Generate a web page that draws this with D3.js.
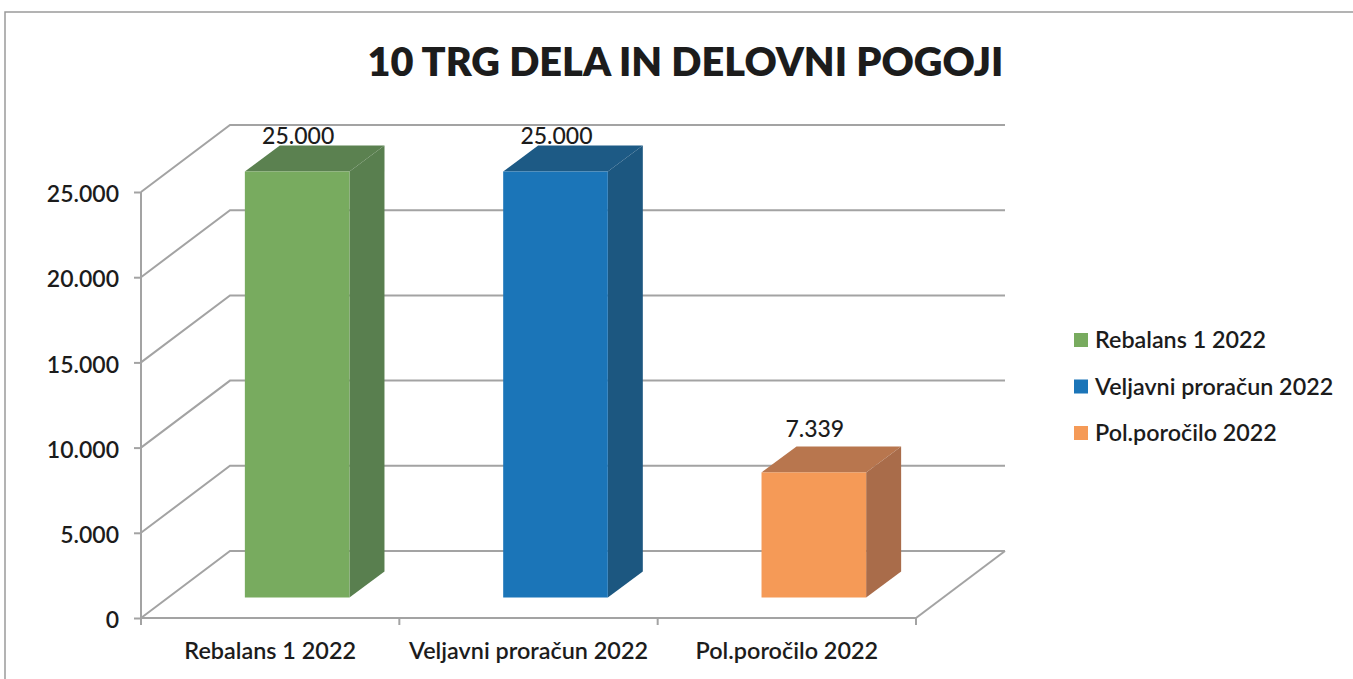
<!DOCTYPE html>
<html>
<head>
<meta charset="utf-8">
<script src="https://cdn.jsdelivr.net/npm/d3@7"></script>
<style>
  html, body { margin: 0; padding: 0; background: #fff; }
  text { font-family: Lato, "Open Sans", sans-serif; fill: #1c1c1c; }
</style>
</head>
<body>
<div id="chart"></div>
<script>
const title = "10 TRG DELA IN DELOVNI POGOJI";
const categories = ["Rebalans 1 2022", "Veljavni proračun 2022", "Pol.poročilo 2022"];
const values = [25000, 25000, 7339];
const valueLabels = ["25.000", "25.000", "7.339"];
const yTicks = [0, 5000, 10000, 15000, 20000, 25000];
const frontColors = ["#78ab5f", "#1b75b8", "#f59a57"];
const topColors = ["#5b8150", "#1d5a85", "#b8764e"];
const sideColors = ["#597f4f", "#1c5780", "#a96c4a"];

const width = 1353, height = 679;
const svg = d3.select("#chart").append("svg")
  .attr("width", width).attr("height", height);

// frame of the chart area
svg.append("path")
  .attr("d", `M5,679 V12 H1353`)
  .attr("fill", "none").attr("stroke", "#9a9a9a").attr("stroke-width", 1.5);

// scales
const scaleX = d3.scaleBand(categories, [141, 916]);
const scaleY = d3.scaleLinear([0, 25000], [618, 192]);
const numFormat = d3.format(",.0f");
const fmt = (d) => numFormat(d).replace(/,/g, ".");

// depth of the 3d box, and of a bar inside it
const depthX = 89, depthY = -67;
const barDepthX = 35, barDepthY = -26;
const barWidth = scaleX.bandwidth() * 0.405;
const gridColor = "#a3a3a3";

// title
svg.append("text")
  .attr("x", 685.5).attr("y", 76)
  .attr("text-anchor", "middle")
  .style("font-size", "39.7px").style("font-weight", 800)
  .text(title);

// back wall and floor lines
const grid = svg.append("g").attr("fill", "none")
  .attr("stroke", gridColor).attr("stroke-width", 2);
grid.selectAll("path.wall")
  .data(yTicks)
  .join("path")
  .classed("wall", true)
  .attr("d", (d) => {
    let y = scaleY(d);
    return `M141,${y} L${141 + depthX},${y + depthY} H${916 + depthX}`;
  });
grid.append("path")
  .attr("d", `M916,618 L${916 + depthX},${618 + depthY}`);

// axes
const axisY = d3.axisLeft(scaleY).tickValues(yTicks).tickFormat(fmt).tickSize(7).tickPadding(15);
const axisX = d3.axisBottom(scaleX).tickSize(0).tickPadding(24);

const gX = svg.append("g").attr("transform", "translate(0,618)").call(axisX);
const gY = svg.append("g").attr("transform", "translate(141,0)").call(axisY);

gY.selectAll("line").attr("stroke", gridColor).attr("stroke-width", 2);
gY.select(".domain").attr("stroke", gridColor).attr("stroke-width", 2)
  .attr("d", `M0,${scaleY(0)} V${scaleY(25000)}`);
gY.selectAll("text").style("font-size", "23px").style("font-family", "Lato")
  .style("font-weight", 600).attr("dy", "0.42em");

gX.select(".domain").attr("stroke", gridColor).attr("stroke-width", 2)
  .attr("d", "M141,0 H916");
gX.selectAll("text").style("font-size", "23.4px").style("font-weight", 600).style("font-family", "Lato");

// x ticks sit between the bands
gX.selectAll("line.sep")
  .data([...categories.map((c) => scaleX(c)), 916])
  .join("line")
  .classed("sep", true)
  .attr("x1", (d) => d).attr("x2", (d) => d)
  .attr("y1", 0).attr("y2", 7)
  .attr("stroke", gridColor).attr("stroke-width", 2);

// bars
const bars = svg.append("g").selectAll("g.bar")
  .data(categories)
  .join("g")
  .classed("bar", true);

const x0 = (d) => scaleX(d) + scaleX.bandwidth() / 2 + (depthX - barDepthX) / 2 - barWidth / 2;
const yBase = 618 + (depthY - barDepthY) / 2;
const yTop = (i) => scaleY(values[i]) + (depthY - barDepthY) / 2;

bars.append("path") // top
  .attr("fill", (d, i) => topColors[i])
  .attr("d", (d, i) => {
    let x = x0(d), y = yTop(i);
    return `M${x},${y} l${barDepthX},${barDepthY} h${barWidth} l${-barDepthX},${-barDepthY} Z`;
  });
bars.append("path") // side
  .attr("fill", (d, i) => sideColors[i])
  .attr("d", (d, i) => {
    let x = x0(d) + barWidth, y = yTop(i);
    return `M${x},${y} l${barDepthX},${barDepthY} V${yBase + barDepthY} L${x},${yBase} Z`;
  });
bars.append("rect") // front
  .attr("fill", (d, i) => frontColors[i])
  .attr("x", (d) => x0(d))
  .attr("y", (d, i) => yTop(i))
  .attr("width", barWidth)
  .attr("height", (d, i) => yBase - yTop(i));

// value labels
bars.append("text")
  .attr("x", (d) => x0(d) + barWidth / 2 + 1)
  .attr("y", (d, i) => yTop(i) + barDepthY - (values[i] > 20000 ? 2 : 9))
  .attr("text-anchor", "middle")
  .style("font-size", "23px").style("font-weight", 500)
  .text((d, i) => valueLabels[i]);

// legend
const scaleLegend = d3.scalePoint(categories, [340, 433]);
const legend = svg.append("g").selectAll("g.item")
  .data(categories)
  .join("g")
  .classed("item", true)
  .attr("transform", (d) => `translate(1074,${scaleLegend(d)})`);
legend.append("rect")
  .attr("y", -7).attr("width", 14).attr("height", 14)
  .attr("fill", (d, i) => frontColors[i]);
legend.append("text")
  .attr("x", 21).attr("dy", "0.35em")
  .style("font-size", "23.3px").style("font-weight", 600)
  .text((d) => d);
</script>
</body>
</html>
